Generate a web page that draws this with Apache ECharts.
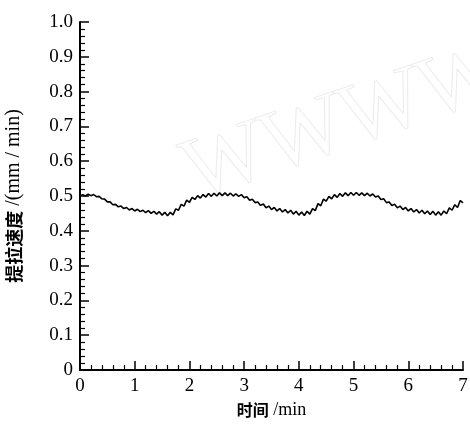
<!DOCTYPE html>
<html><head><meta charset="utf-8">
<script src="https://cdn.jsdelivr.net/npm/echarts@6/dist/echarts.min.js"></script>
<style>html,body{margin:0;padding:0;background:#fff}#c{width:470px;height:426px}</style>
</head><body><div id="c"></div>
<script>
const times = [0.00,0.05,0.10,0.15,0.20,0.25,0.30,0.35,0.40,0.45,0.50,0.55,0.60,0.65,0.70,0.75,0.80,0.85,0.90,0.95,
1.00,1.05,1.10,1.15,1.20,1.25,1.30,1.35,1.40,1.45,1.50,1.55,1.60,1.65,1.70,1.75,1.80,1.85,1.90,1.95,
2.00,2.05,2.10,2.15,2.20,2.25,2.30,2.35,2.40,2.45,2.50,2.55,2.60,2.65,2.70,2.75,2.80,2.85,2.90,2.95,
3.00,3.05,3.10,3.15,3.20,3.25,3.30,3.35,3.40,3.45,3.50,3.55,3.60,3.65,3.70,3.75,3.80,3.85,3.90,3.95,
4.00,4.05,4.10,4.15,4.20,4.25,4.30,4.35,4.40,4.45,4.50,4.55,4.60,4.65,4.70,4.75,4.80,4.85,4.90,4.95,
5.00,5.05,5.10,5.15,5.20,5.25,5.30,5.35,5.40,5.45,5.50,5.55,5.60,5.65,5.70,5.75,5.80,5.85,5.90,5.95,
6.00,6.05,6.10,6.15,6.20,6.25,6.30,6.35,6.40,6.45,6.50,6.55,6.60,6.65,6.70,6.75,6.80,6.85,6.90,6.95,7.00];
const speeds = [0.500,0.504,0.500,0.505,0.501,0.504,0.498,0.499,0.492,0.491,0.483,0.483,0.475,0.476,0.469,0.471,0.464,0.467,0.460,0.464,
0.457,0.462,0.455,0.459,0.452,0.458,0.450,0.456,0.448,0.455,0.445,0.453,0.443,0.453,0.446,0.463,0.459,0.476,0.471,0.488,
0.482,0.496,0.490,0.501,0.494,0.504,0.497,0.507,0.499,0.508,0.500,0.509,0.501,0.509,0.501,0.508,0.500,0.506,0.499,0.504,
0.495,0.498,0.488,0.491,0.481,0.483,0.473,0.477,0.466,0.471,0.461,0.467,0.457,0.464,0.454,0.461,0.451,0.459,0.448,0.456,
0.445,0.454,0.444,0.456,0.448,0.464,0.458,0.478,0.472,0.491,0.485,0.499,0.492,0.504,0.496,0.507,0.499,0.509,0.501,0.510,
0.502,0.510,0.502,0.509,0.501,0.508,0.500,0.506,0.497,0.500,0.490,0.492,0.481,0.483,0.473,0.476,0.466,0.471,0.461,0.467,
0.457,0.464,0.454,0.461,0.451,0.459,0.449,0.457,0.447,0.456,0.445,0.455,0.445,0.457,0.449,0.466,0.459,0.475,0.467,0.487,0.480];
const xTitleCn = '时间';
const xTitleUnit = ' /min';
const yTitleCn = '提拉速度';
const yTitleUnit = ' /(mm / min)';
const watermark = 'WWWW';

const chart = echarts.init(document.getElementById('c'));
const serif = '"Liberation Serif"';
chart.setOption({
  animation: false,
  backgroundColor: '#fff',
  graphic: [{
    type: 'text', left: 172, top: 28, rotation: 0.33, z: -1,
    style: { text: watermark, font: '88px "Liberation Serif"', fill: 'rgba(0,0,0,0)', stroke: '#ececec', lineWidth: 1 }
  }],
  grid: { left: 80, right: 7, top: 22, bottom: 56, containLabel: false, outerBoundsMode: 'none' },
  xAxis: {
    type: 'value', min: 0, max: 7, interval: 1,
    name: '{b|' + xTitleCn + '}' + xTitleUnit, nameLocation: 'middle', nameGap: 31,
    nameTextStyle: { fontFamily: serif, fontSize: 18, color: '#000',
      rich: { b: { fontFamily: '"Noto Sans CJK SC"', fontWeight: 'bold', fontSize: 16, color: '#000' } } },
    axisLine: { lineStyle: { color: '#000', width: 2 } },
    axisTick: { inside: true, length: 9, lineStyle: { color: '#000', width: 1.5 } },
    minorTick: { show: true, splitNumber: 5, length: 5, lineStyle: { color: '#000', width: 1.2 } },
    axisLabel: { fontFamily: serif, fontSize: 19, color: '#000', margin: 7 },
    splitLine: { show: false }
  },
  yAxis: {
    type: 'value', min: 0, max: 1, interval: 0.1,
    name: '{b|' + yTitleCn + '}' + yTitleUnit, nameLocation: 'middle', nameGap: 56, nameRotate: 90,
    nameTextStyle: { fontFamily: serif, fontSize: 20, color: '#000',
      rich: { b: { fontFamily: '"Noto Sans CJK SC"', fontWeight: 'bold', fontSize: 18, color: '#000' } } },
    axisLine: { show: true, lineStyle: { color: '#000', width: 2 } },
    axisTick: { show: true, inside: true, length: 9, lineStyle: { color: '#000', width: 1.5 } },
    minorTick: { show: true, splitNumber: 5, length: 5, lineStyle: { color: '#000', width: 1.2 } },
    axisLabel: { fontFamily: serif, fontSize: 19, color: '#000', margin: 7,
      formatter: v => v === 0 ? '0' : v.toFixed(1) },
    splitLine: { show: false }
  },
  series: [{
    type: 'line', data: times.map((t, i) => [t, speeds[i]]),
    showSymbol: false, smooth: false,
    lineStyle: { color: '#000', width: 1.6 }
  }]
});
</script></body></html>
